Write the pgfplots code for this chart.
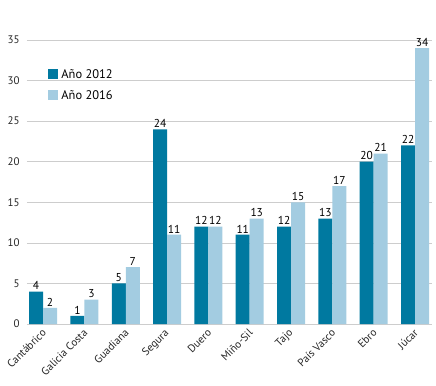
\documentclass[border=0pt]{standalone}
\usepackage{fontspec}
\setmainfont{PT Sans}
\usepackage{graphicx}
\usepackage{pgfplots}
\pgfplotsset{compat=1.18}
\usetikzlibrary{calc}
\definecolor{dark}{RGB}{0,121,160}
\definecolor{light}{RGB}{163,204,225}
\definecolor{gridc}{RGB}{205,205,205}
\newcommand{\rl}[1]{\rotatebox{45}{#1}}
\begin{document}
\begin{tikzpicture}
\begin{axis}[
  scale only axis,
  width=405bp, height=284bp,
  ybar=0pt, bar width=14bp,
  xmin=-0.39, xmax=9.41,
  ymin=0, ymax=35,
  ytick={0,5,...,35},
  xtick={0,...,9},
  xticklabels={\rl{Cantábrico},\rl{Galicia Costa},\rl{Guadiana},\rl{Segura},\rl{Duero},\rl{Miño-Sil},\rl{Tajo},\rl{País Vasco},\rl{Ebro},\rl{Júcar}},
  x tick label style={anchor=north east, inner sep=1pt, xshift=5bp, yshift=-3bp},
  tick label style={font=\fontsize{11}{13}\selectfont, color=black!85},
  y tick label style={xshift=-4bp},
  /pgf/number format/assume math mode=true,
  axis line style={draw=none},
  ymajorgrids, grid style={gridc, line width=0.6pt},
  major tick length=0pt,
  nodes near coords,
  nodes near coords style={font=\fontsize{11.5}{13}\selectfont, black, inner sep=1.5pt},
  legend style={draw=none, fill=none, at={(rel axis cs:0.045,0.915)}, anchor=north west, font=\fontsize{12.5}{15}\selectfont, row sep=5bp,
    nodes={inner sep=3bp}},
  legend image code/.code={\fill[#1] (0bp,-4.5bp) rectangle (10bp,5.5bp);},
  clip=false,
]
\addplot[fill=dark, draw=none] coordinates {(0,4) (1,1) (2,5) (3,24) (4,12) (5,11) (6,12) (7,13) (8,20) (9,22)};
\addplot[fill=light, draw=none] coordinates {(0,2) (1,3) (2,7) (3,11) (4,12) (5,13) (6,15) (7,17) (8,21) (9,34)};
\legend{Año 2012, Año 2016}
\coordinate (bl) at (rel axis cs:0,0);
\coordinate (tr) at (rel axis cs:1,1);
\end{axis}
\pgfresetboundingbox
\path (bl) ++(-27bp,-62bp) rectangle ($(tr)+(4bp,40bp)$);
\end{tikzpicture}
\end{document}
